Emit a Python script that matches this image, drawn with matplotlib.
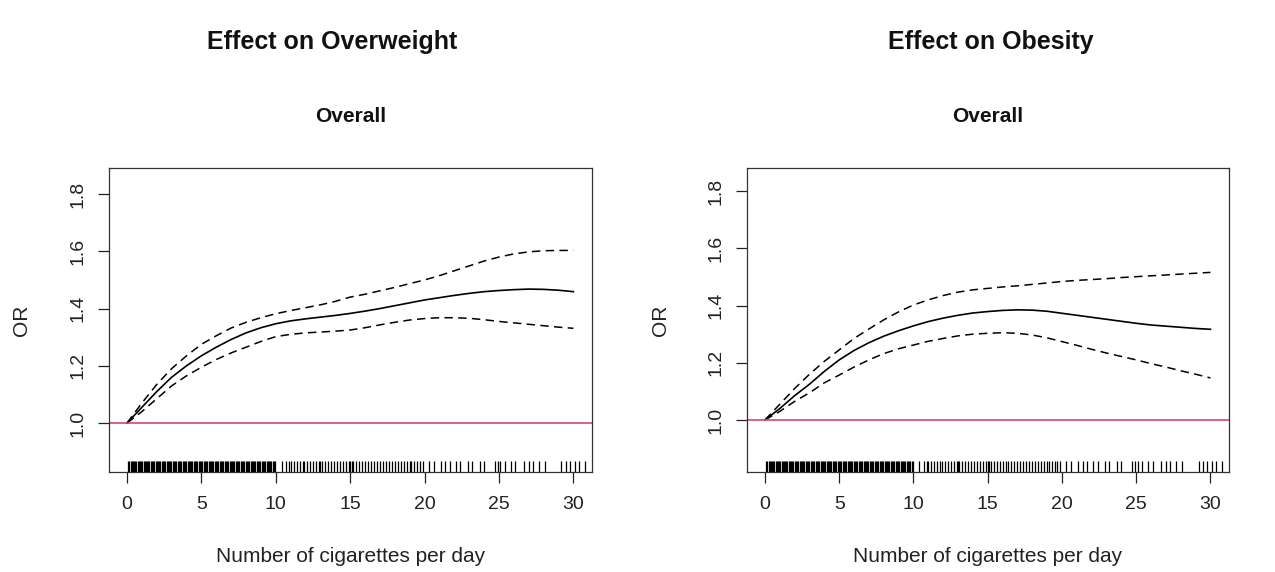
import matplotlib
matplotlib.use("Agg")
import matplotlib.pyplot as plt
import matplotlib.transforms as mtransforms

plt.rcParams['font.family'] = ['Liberation Sans', 'DejaVu Sans']

# ---------------- data ----------------
cigs = [0, 1, 2, 3, 4, 5, 6, 7, 8, 9, 10, 11, 12, 13, 14, 15, 16, 17, 18, 19, 20,
        21, 22, 23, 24, 25, 26, 27, 28, 29, 30]

ow_fit = [1.000, 1.055, 1.110, 1.160, 1.200, 1.235, 1.265, 1.292, 1.315, 1.333, 1.347,
          1.357, 1.364, 1.370, 1.376, 1.383, 1.391, 1.400, 1.410, 1.420, 1.430,
          1.438, 1.446, 1.453, 1.459, 1.463, 1.466, 1.468, 1.467, 1.464, 1.459]
ow_upper = [1.000, 1.070, 1.135, 1.190, 1.235, 1.275, 1.305, 1.332, 1.352, 1.368, 1.382,
            1.393, 1.403, 1.413, 1.425, 1.440, 1.450, 1.462, 1.474, 1.487, 1.500,
            1.515, 1.532, 1.549, 1.566, 1.580, 1.591, 1.598, 1.602, 1.603, 1.603]
ow_lower = [1.000, 1.040, 1.085, 1.130, 1.165, 1.195, 1.222, 1.245, 1.265, 1.285, 1.302,
            1.310, 1.315, 1.318, 1.321, 1.325, 1.333, 1.343, 1.352, 1.360, 1.365,
            1.368, 1.368, 1.366, 1.361, 1.355, 1.350, 1.345, 1.340, 1.335, 1.331]

ob_fit = [1.000, 1.040, 1.085, 1.125, 1.170, 1.210, 1.243, 1.270, 1.293, 1.312, 1.329,
          1.344, 1.356, 1.366, 1.374, 1.379, 1.383, 1.385, 1.384, 1.380, 1.373,
          1.366, 1.359, 1.352, 1.345, 1.338, 1.332, 1.328, 1.324, 1.320, 1.317]
ob_upper = [1.000, 1.055, 1.110, 1.160, 1.205, 1.245, 1.285, 1.318, 1.350, 1.378, 1.402,
            1.420, 1.435, 1.447, 1.455, 1.460, 1.465, 1.469, 1.474, 1.479, 1.484,
            1.488, 1.491, 1.494, 1.498, 1.501, 1.504, 1.507, 1.510, 1.513, 1.516]
ob_lower = [1.000, 1.030, 1.065, 1.095, 1.130, 1.157, 1.185, 1.210, 1.232, 1.249, 1.262,
            1.275, 1.285, 1.294, 1.300, 1.303, 1.305, 1.303, 1.297, 1.287, 1.274,
            1.261, 1.247, 1.234, 1.222, 1.210, 1.197, 1.185, 1.172, 1.160, 1.147]

# rug of observed cigarettes/day
rug_vals = [0.08, 0.16, 0.24, 0.31, 0.40, 0.47, 0.55, 0.63, 0.71, 0.80, 0.88, 0.95,
            1.03, 1.12, 1.19, 1.27, 1.36, 1.44, 1.51, 1.60, 1.68, 1.76, 1.84, 1.92,
            2.00, 2.09, 2.17, 2.25, 2.33, 2.41, 2.50, 2.58, 2.66, 2.74, 2.83, 2.91,
            2.99, 3.07, 3.16, 3.24, 3.32, 3.41, 3.49, 3.57, 3.66, 3.74, 3.82, 3.90,
            3.98, 4.07, 4.15, 4.23, 4.32, 4.40, 4.48, 4.57, 4.65, 4.73, 4.81, 4.90,
            4.98, 5.06, 5.15, 5.23, 5.31, 5.40, 5.48, 5.56, 5.64, 5.73, 5.81, 5.89,
            5.98, 6.06, 6.14, 6.23, 6.31, 6.39, 6.47, 6.56, 6.64, 6.72, 6.81, 6.89,
            6.97, 7.05, 7.14, 7.22, 7.30, 7.39, 7.47, 7.55, 7.64, 7.72, 7.80, 7.88,
            7.97, 8.05, 8.13, 8.22, 8.30, 8.38, 8.46, 8.55, 8.63, 8.71, 8.80, 8.88,
            8.96, 9.05, 9.13, 9.21, 9.29, 9.38, 9.46, 9.54, 9.63, 9.71, 9.79, 9.88, 9.96,
            10.4, 10.7, 10.9, 11.0, 11.2, 11.4, 11.6, 11.8, 11.9, 12.1, 12.3, 12.5,
            12.7, 12.9, 13.0, 13.1, 13.3, 13.5, 13.7, 13.9, 14.1, 14.3, 14.5, 14.7,
            14.9, 15.0, 15.1, 15.2, 15.4, 15.6, 15.8, 16.0, 16.2, 16.4, 16.6, 16.8,
            17.0, 17.2, 17.4, 17.6, 17.8, 18.0, 18.2, 18.4, 18.6, 18.8, 19.0, 19.1,
            19.3, 19.5, 19.7, 19.9,
            20.3, 20.6, 21.1, 21.4, 21.7, 22.1, 22.4, 22.9, 23.2, 23.7, 24.0, 24.7,
            24.9, 25.1, 25.4, 25.8, 26.1, 26.7, 27.0, 27.3, 27.7, 28.1, 29.2, 29.5,
            29.8, 30.1, 30.4, 30.8]

x_ticks = [0, 5, 10, 15, 20, 25, 30]
y_ticks = [1.0, 1.2, 1.4, 1.6, 1.8]
y_tick_labels = ["1.0", "1.2", "1.4", "1.6", "1.8"]

panels = [
    dict(title="Effect on Overweight", sub="Overall", fit=ow_fit, up=ow_upper, lo=ow_lower,
         rect=[109/1275, 1-472/572, (592-109)/1275, (472-168)/572], ylim=(0.829, 1.891),
         tx=332/1275, lx=22/1275),
    dict(title="Effect on Obesity", sub="Overall", fit=ob_fit, up=ob_upper, lo=ob_lower,
         rect=[747/1275, 1-472/572, (1229-747)/1275, (472-168)/572], ylim=(0.818, 1.881),
         tx=991/1275, lx=660/1275),
]

fig = plt.figure(figsize=(12.75, 5.72), dpi=100)

for p in panels:
    ax = fig.add_axes(p["rect"])
    ax.plot(cigs, p["fit"], color="black", lw=1.2)
    ax.plot(cigs, p["up"], color="black", lw=1.1, dashes=(5.5, 3.5))
    ax.plot(cigs, p["lo"], color="black", lw=1.1, dashes=(5.5, 3.5))
    ax.axhline(1.0, color="#d8456a", lw=1.2)
    trans = mtransforms.blended_transform_factory(ax.transData, ax.transAxes)
    ax.vlines(rug_vals, 0, 0.036, transform=trans, color="black", lw=0.9)
    ax.set_xlim(-1.21, 31.25)
    ax.set_ylim(*p["ylim"])
    ax.set_xticks(x_ticks)
    ax.set_xticklabels([str(t) for t in x_ticks], fontsize=14, color="#222222")
    ax.set_yticks(y_ticks)
    ax.set_yticklabels(y_tick_labels, fontsize=14, rotation=90, va="center", color="#222222")
    ax.tick_params(axis="both", direction="out", length=8, width=0.9, color="#222222")
    ax.tick_params(axis="x", pad=9)
    ax.tick_params(axis="y", pad=8)
    for s in ax.spines.values():
        s.set_linewidth(0.9)
        s.set_color("#333333")
    cx = p["rect"][0] + p["rect"][2] / 2
    fig.text(p["tx"], 1 - 42/572, p["title"], ha="center", va="center",
             fontsize=18, fontweight="bold", color="#111111")
    fig.text(cx, 1 - 116/572, p["sub"], ha="center", va="center",
             fontsize=15, fontweight="bold", color="#111111")
    fig.text(cx, 1 - 556/572, "Number of cigarettes per day", ha="center", va="center",
             fontsize=15, color="#222222")
    fig.text(p["lx"], 1 - 320/572, "OR", ha="center", va="center", rotation=90,
             fontsize=15, color="#222222")

fig.savefig("out.png", dpi=100, facecolor="white")
